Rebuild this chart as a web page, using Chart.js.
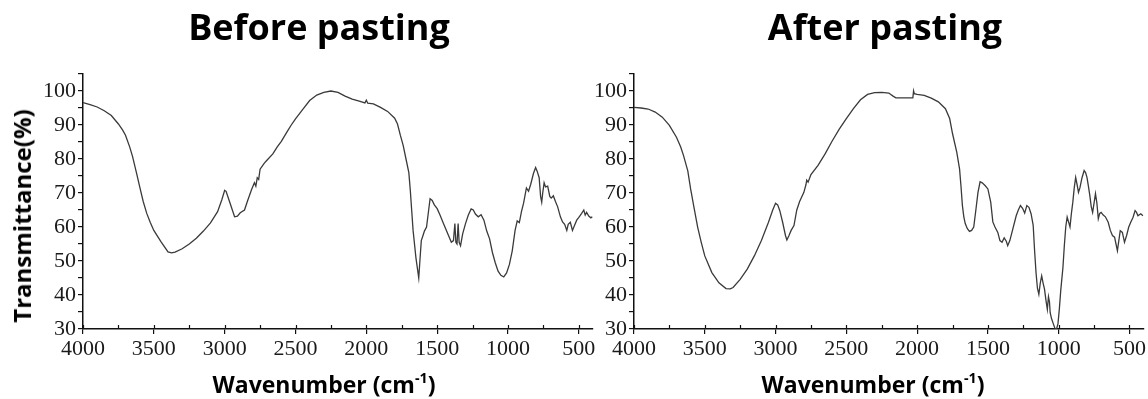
<!DOCTYPE html>
<html>
<head>
<meta charset="utf-8">
<script src="https://cdn.jsdelivr.net/npm/chart.js@4.4.1/dist/chart.umd.min.js"></script>
<style>
  body { margin: 0; background: #fff; }
  #wrap { position: relative; width: 1148px; height: 399px; overflow: hidden; }
  canvas { position: absolute; top: 0; }
  .title { position: absolute; font-family: "Open Sans", sans-serif; font-weight: 700; color: #000; white-space: nowrap; transform: translateX(-50%); }
  .main { font-size: 36px; line-height: 36px; top: 9px; }
  .xt { font-size: 23px; line-height: 23px; top: 373px; }
  .yt { font-size: 24px; line-height: 24px; left: 22px; top: 216px; transform: translate(-50%, -50%) rotate(-90deg); }
  sup { font-size: 0.62em; line-height: 0; position: relative; top: -0.1em; }
</style>
</head>
<body>
<div id="wrap">
  <canvas id="before" width="600" height="399" style="left:0px"></canvas>
  <canvas id="after" width="554" height="399" style="left:594px"></canvas>
  <div class="title main" style="left:319px">Before pasting</div>
  <div class="title main" style="left:885px">After pasting</div>
  <div class="title xt" style="left:324px">Wavenumber (cm<sup>-1</sup>)</div>
  <div class="title xt" style="left:873px">Wavenumber (cm<sup>-1</sup>)</div>
  <div class="title yt">Transmittance(%)</div>
</div>
<script>
// FTIR spectra (wavenumber in cm-1, transmittance in %)
const beforeWave = [4000, 3950, 3900, 3850, 3800, 3750, 3720, 3700, 3670, 3650, 3620, 3600, 3575, 3550, 3525, 3500, 3450, 3400, 3375, 3350, 3300, 3250, 3200, 3150, 3100, 3050, 3020, 3000, 2990, 2970, 2950, 2930, 2910, 2890, 2860, 2840, 2810, 2790, 2780, 2770, 2760, 2750, 2720, 2700, 2660, 2630, 2600, 2560, 2530, 2500, 2450, 2400, 2350, 2300, 2250, 2200, 2150, 2100, 2050, 2010, 2000, 1990, 1950, 1900, 1850, 1800, 1780, 1760, 1740, 1720, 1700, 1690, 1680, 1670, 1660, 1650, 1640, 1630, 1622, 1612, 1600, 1590, 1575, 1560, 1550, 1535, 1520, 1500, 1480, 1460, 1440, 1420, 1400, 1385, 1375, 1368, 1360, 1352, 1345, 1335, 1320, 1300, 1280, 1260, 1245, 1230, 1210, 1190, 1170, 1150, 1130, 1110, 1090, 1070, 1050, 1030, 1010, 990, 970, 950, 935, 920, 905, 890, 870, 855, 840, 820, 805, 795, 780, 770, 762, 755, 745, 735, 720, 705, 695, 680, 665, 650, 630, 615, 600, 585, 575, 560, 545, 530, 515, 500, 480, 465, 455, 445, 430, 415, 405];
const beforeT = [96.6, 96, 95.3, 94.2, 92.8, 90.3, 88.5, 87, 83.5, 80.7, 75.5, 71.9, 67.5, 64, 61.3, 59, 55.7, 52.7, 52.4, 52.6, 53.6, 55, 56.7, 58.8, 61.2, 64.5, 68, 70.8, 70.5, 68, 65.5, 63, 63.2, 64.2, 65, 67.5, 71, 73, 72, 74.5, 74, 77, 78.8, 79.7, 81.5, 83.5, 85.2, 88, 90, 91.8, 94.5, 97.2, 98.8, 99.6, 100, 99.6, 98.5, 97.6, 97, 96.5, 97.3, 96.4, 96.2, 95.2, 94, 92, 90.3, 87, 84, 80, 76, 71, 65, 59, 55, 51, 48, 45, 50, 56, 57.5, 58.8, 60, 65, 68.3, 67.8, 66.5, 65.4, 63.5, 61.5, 59.5, 57.5, 55.5, 56, 61, 55.5, 55, 61, 55.5, 54.5, 58, 61, 63.5, 65.3, 65, 63.8, 63, 63.6, 62, 58.8, 56.5, 52.5, 49.5, 47, 45.8, 45.3, 46.5, 49, 53, 59, 61.8, 61.3, 64.5, 67, 71.5, 70.5, 72.5, 75.8, 77.5, 76.5, 74.5, 69, 67.3, 70, 73, 71.8, 72, 69, 68.5, 69.2, 67.5, 66, 63, 61.5, 60.8, 59, 60.8, 61.4, 59, 60.5, 62, 62.8, 64, 65, 63.5, 64.3, 63.2, 62.7, 63];

const afterWave = [4000, 3950, 3900, 3850, 3800, 3750, 3700, 3670, 3650, 3620, 3600, 3575, 3550, 3525, 3500, 3450, 3400, 3350, 3320, 3300, 3250, 3200, 3150, 3100, 3050, 3020, 3000, 2985, 2970, 2950, 2930, 2920, 2905, 2890, 2870, 2850, 2830, 2800, 2785, 2780, 2770, 2750, 2700, 2650, 2600, 2550, 2500, 2450, 2400, 2350, 2300, 2250, 2200, 2170, 2150, 2100, 2050, 2030, 2025, 2020, 2000, 1950, 1900, 1850, 1800, 1770, 1750, 1720, 1700, 1690, 1680, 1670, 1660, 1645, 1630, 1615, 1600, 1585, 1570, 1555, 1540, 1520, 1500, 1480, 1465, 1450, 1430, 1415, 1400, 1385, 1370, 1360, 1345, 1330, 1300, 1285, 1270, 1255, 1240, 1225, 1210, 1195, 1180, 1170, 1160, 1150, 1140, 1130, 1120, 1110, 1100, 1090, 1080, 1072, 1065, 1060, 1050, 1040, 1025, 1015, 1005, 995, 985, 970, 960, 950, 940, 930, 920, 910, 900, 890, 880, 870, 860, 850, 835, 820, 810, 800, 790, 780, 770, 760, 750, 740, 730, 720, 710, 700, 685, 670, 650, 635, 620, 605, 595, 585, 575, 565, 550, 535, 520, 505, 490, 475, 460, 450, 440, 430, 420, 405];
const afterT = [95.2, 95, 94.7, 93.8, 92.3, 89.9, 86.4, 83.5, 81, 76.5, 71.2, 65.5, 59.9, 55.5, 51.5, 46.6, 43.6, 41.9, 41.8, 42.2, 44.6, 47.6, 51.5, 56, 61.4, 65, 67, 66.5, 64.8, 61.4, 57.5, 56.2, 57.5, 59, 60.4, 65, 67.5, 70.2, 72.5, 73.8, 73.2, 75.4, 78.1, 81.5, 85.3, 88.8, 91.9, 94.8, 97.4, 99, 99.5, 99.6, 99.4, 98.5, 98, 98, 98, 98, 100, 99.2, 99, 98.7, 97.9, 96.8, 94.8, 91.9, 87.5, 82, 77, 72, 66.3, 63, 61, 59.5, 58.7, 59, 60, 65, 70.2, 73.3, 73, 72.2, 71.2, 67.3, 61.5, 60, 58.4, 56, 55.5, 56.8, 55.8, 54.5, 56, 58.4, 63.3, 65, 66.3, 65.5, 64.1, 66.3, 65.8, 63.9, 60.5, 53, 46.6, 42, 40.2, 43.5, 45.6, 43.5, 41.7, 38.5, 35.8, 39.5, 38, 34.8, 33, 31.8, 30, 30, 31.5, 36, 41.5, 48, 54.5, 60, 62.9, 61.5, 60, 64, 67.3, 71.5, 74.6, 72.5, 70.2, 71.5, 74.5, 76.6, 76, 74.6, 72, 69.3, 66, 64.3, 67, 69.8, 67, 62.4, 64, 64.3, 63.5, 63, 61.4, 59, 57.5, 57, 55, 53, 56, 58.9, 58.4, 55.5, 57.5, 60, 61.5, 62.8, 64.8, 64.3, 63.3, 63.6, 63.9, 63.3];

const xRange = [400, 4000];
const yRange = [30, 105];
const xLabelStep = 500;
const yLabelStep = 10;

// short ticks pointing up into the plot from the wavenumber axis
const innerTicks = {
    id: "innerTicks",
    afterDraw(chart) {
        const { ctx, chartArea } = chart;
        const x = chart.scales.x;
        ctx.save();
        ctx.strokeStyle = "#111";
        ctx.lineWidth = 1.2;
        x.ticks.forEach(t => {
            const px = Math.round(x.getPixelForValue(t.value)) + 0.5;
            ctx.beginPath();
            ctx.moveTo(px, chartArea.bottom);
            ctx.lineTo(px, chartArea.bottom - 4);
            ctx.stroke();
        });
        ctx.restore();
    }
};

function buildChart(id, waves, values, yAxisWidth, padRight) {
    const points = waves.map((w, i) => ({ x: w, y: values[i] }));
    const tickFont = { family: "'Liberation Serif', 'Times New Roman', 'DejaVu Serif', serif", size: 22 };

    new Chart(document.getElementById(id), {
        type: "line",
        data: {
            datasets: [{
                data: points,
                borderColor: "#3a3a3a",
                borderWidth: 1.3,
                pointRadius: 0,
                tension: 0,
                fill: false
            }]
        },
        options: {
            responsive: false,
            animation: false,
            devicePixelRatio: 1,
            layout: { padding: { top: 74, right: padRight, left: 0, bottom: 0 } },
            plugins: { legend: { display: false }, tooltip: { enabled: false } },
            scales: {
                x: {
                    type: "linear",
                    reverse: true,
                    min: xRange[0],
                    max: xRange[1],
                    border: { color: "#111", width: 1.5 },
                    grid: {
                        drawOnChartArea: false,
                        tickLength: 5,
                        lineWidth: 1.2,
                        color: c => (c.tick && c.tick.value % xLabelStep === 0 ? "#111" : "rgba(0,0,0,0)")
                    },
                    ticks: {
                        stepSize: 250,
                        includeBounds: false,
                        autoSkip: false,
                        maxRotation: 0,
                        padding: 2,
                        color: "#1a1a1a",
                        font: tickFont,
                        callback: v => (v % xLabelStep === 0 ? v : "")
                    },
                    afterFit: scale => { scale.height = 70; }
                },
                y: {
                    min: yRange[0],
                    max: yRange[1],
                    border: { color: "#111", width: 1.5 },
                    grid: { drawOnChartArea: false, tickLength: 5, color: "#111", lineWidth: 1.2 },
                    ticks: {
                        stepSize: 5,
                        autoSkip: false,
                        padding: 2,
                        color: "#1a1a1a",
                        font: tickFont,
                        callback: v => (v % yLabelStep === 0 && v <= 100 ? v : "")
                    },
                    afterFit: scale => { scale.width = yAxisWidth; }
                }
            }
        },
        plugins: [innerTicks]
    });
}

buildChart("before", beforeWave, beforeT, 83, 7);
buildChart("after", afterWave, afterT, 40, 2);
</script>
</body>
</html>
